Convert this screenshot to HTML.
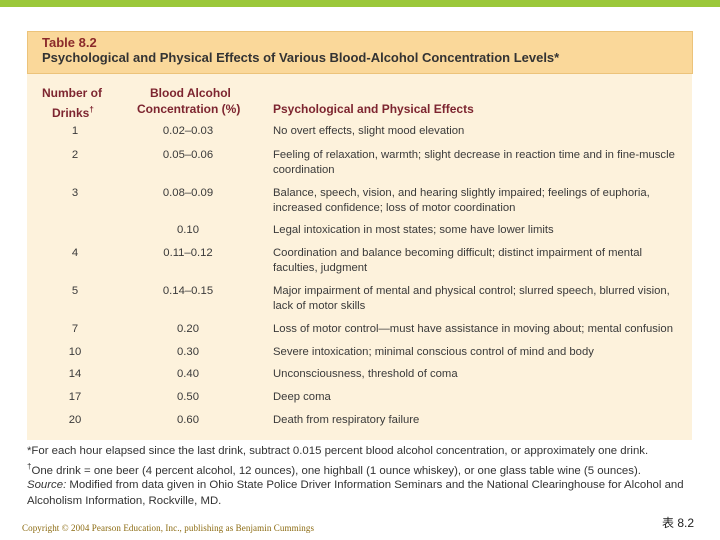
<!DOCTYPE html>
<html><head><meta charset="utf-8"><style>
body{margin:0;width:720px;height:540px;background:#fff;position:relative;overflow:hidden;font-family:"Liberation Sans","Noto Sans CJK SC",sans-serif;}
.a{position:absolute;white-space:nowrap;}
.t{font-size:11.3px;color:#3a3a3a;line-height:15px;}
.c1{left:40px;width:70px;text-align:center;}
.c2{left:150px;width:76px;text-align:center;}
.c3{left:273px;}
.h{font-size:12px;font-weight:bold;color:#7d2530;line-height:15px;}
.f{font-size:11.4px;color:#333;left:27px;}
</style></head><body>
<div class="a" style="left:0;top:0;width:720px;height:7px;background:#9bc83a"></div>
<div class="a" style="left:27px;top:31px;width:665px;height:409px;background:#fdf2dc"></div>
<div class="a" style="left:27px;top:31px;width:664px;height:41px;background:#fad89a;border:1px solid #ecc37a"></div>
<div class="a" style="left:42px;top:35px;font-size:13px;font-weight:bold;color:#8b2a2a">Table 8.2</div>
<div class="a" style="left:42px;top:50px;font-size:13px;font-weight:bold;color:#333">Psychological and Physical Effects of Various Blood-Alcohol Concentration Levels*</div>
<div class="a h" style="left:42px;top:86px">Number of</div>
<div class="a h" style="left:52px;top:102px">Drinks<sup style="font-size:8px">†</sup></div>
<div class="a h" style="left:150px;top:86px">Blood Alcohol</div>
<div class="a h" style="left:137px;top:102px">Concentration (%)</div>
<div class="a h" style="left:273px;top:102px">Psychological and Physical Effects</div>

<div class="a t c1" style="top:124px">1</div><div class="a t c2" style="top:124px">0.02–0.03</div><div class="a t c3" style="top:124px">No overt effects, slight mood elevation</div>
<div class="a t c1" style="top:148px">2</div><div class="a t c2" style="top:148px">0.05–0.06</div><div class="a t c3" style="top:148px">Feeling of relaxation, warmth; slight decrease in reaction time and in fine-muscle<br>coordination</div>
<div class="a t c1" style="top:186px">3</div><div class="a t c2" style="top:186px">0.08–0.09</div><div class="a t c3" style="top:186px">Balance, speech, vision, and hearing slightly impaired; feelings of euphoria,<br>increased confidence; loss of motor coordination</div>
<div class="a t c2" style="top:223px">0.10</div><div class="a t c3" style="top:223px">Legal intoxication in most states; some have lower limits</div>
<div class="a t c1" style="top:246px">4</div><div class="a t c2" style="top:246px">0.11–0.12</div><div class="a t c3" style="top:246px">Coordination and balance becoming difficult; distinct impairment of mental<br>faculties, judgment</div>
<div class="a t c1" style="top:284px">5</div><div class="a t c2" style="top:284px">0.14–0.15</div><div class="a t c3" style="top:284px">Major impairment of mental and physical control; slurred speech, blurred vision,<br>lack of motor skills</div>
<div class="a t c1" style="top:322px">7</div><div class="a t c2" style="top:322px">0.20</div><div class="a t c3" style="top:322px">Loss of motor control—must have assistance in moving about; mental confusion</div>
<div class="a t c1" style="top:345px">10</div><div class="a t c2" style="top:345px">0.30</div><div class="a t c3" style="top:345px">Severe intoxication; minimal conscious control of mind and body</div>
<div class="a t c1" style="top:367px">14</div><div class="a t c2" style="top:367px">0.40</div><div class="a t c3" style="top:367px">Unconsciousness, threshold of coma</div>
<div class="a t c1" style="top:390px">17</div><div class="a t c2" style="top:390px">0.50</div><div class="a t c3" style="top:390px">Deep coma</div>
<div class="a t c1" style="top:413px">20</div><div class="a t c2" style="top:413px">0.60</div><div class="a t c3" style="top:413px">Death from respiratory failure</div>

<div class="a f" style="top:445px">*For each hour elapsed since the last drink, subtract 0.015 percent blood alcohol concentration, or approximately one drink.</div>
<div class="a f" style="top:462px"><sup style="font-size:8px">†</sup>One drink = one beer (4 percent alcohol, 12 ounces), one highball (1 ounce whiskey), or one glass table wine (5 ounces).</div>
<div class="a f" style="top:479px"><i>Source:</i> Modified from data given in Ohio State Police Driver Information Seminars and the National Clearinghouse for Alcohol and</div>
<div class="a f" style="top:495px">Alcoholism Information, Rockville, MD.</div>
<div class="a" style="left:22px;top:523px;font-family:'Liberation Serif',serif;font-size:9px;color:#8b6a10;letter-spacing:0.1px">Copyright © 2004 Pearson Education, Inc., publishing as Benjamin Cummings</div>
<div class="a" style="left:662px;top:514px;font-size:12px;color:#222">表 8.2</div>
</body></html>
